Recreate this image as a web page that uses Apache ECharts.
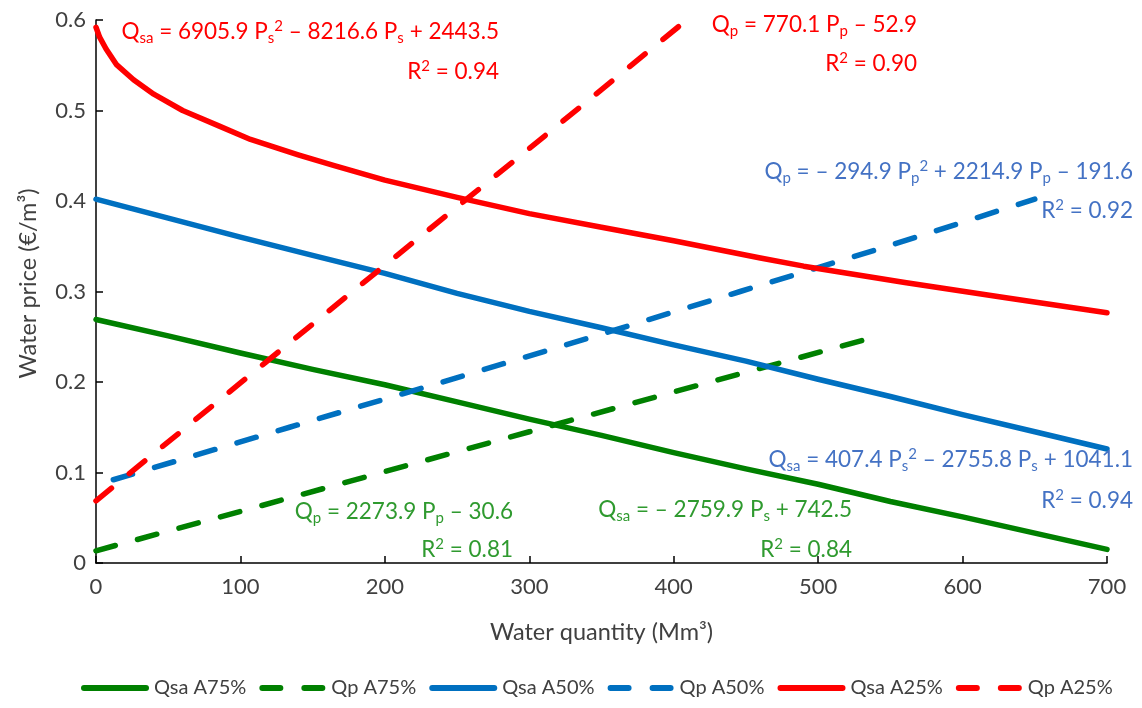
<!DOCTYPE html>
<html>
<head>
<meta charset="utf-8">
<script src="https://cdn.jsdelivr.net/npm/echarts@6/dist/echarts.min.js"></script>
<style>
html,body{margin:0;padding:0;background:#fff;}
#c{width:1142px;height:708px;}
</style>
</head>
<body>
<div id="c"></div>
<script>
// ---- data ----
const seriesNames = ['Qsa A75%', 'Qp A75%', 'Qsa A50%', 'Qp A50%', 'Qsa A25%', 'Qp A25%'];

const qsaA75_Q = [0, 50, 100, 150, 200, 250, 300, 350, 400, 450, 500, 550, 600, 650, 700];
const qsaA75_P = [0.269, 0.251, 0.232, 0.214, 0.197, 0.178, 0.159, 0.141, 0.122, 0.104, 0.087, 0.068, 0.051, 0.033, 0.015];

const qpA75_Q = [0, 100, 200, 300, 400, 540];
const qpA75_P = [0.0135, 0.057, 0.101, 0.145, 0.189, 0.250];

const qsaA50_Q = [0, 50, 100, 150, 200, 250, 300, 350, 400, 450, 500, 550, 600, 650, 700];
const qsaA50_P = [0.402, 0.381, 0.360, 0.340, 0.320, 0.298, 0.278, 0.260, 0.241, 0.223, 0.203, 0.184, 0.164, 0.145, 0.126];

const qpA50_Q = [12, 134, 240, 344, 446, 548, 650];
const qpA50_P = [0.092, 0.150, 0.200, 0.250, 0.300, 0.350, 0.402];

const qsaA25_Q = [0, 2.5, 7, 14, 26, 40, 60, 85, 107, 140, 165, 200, 250, 300, 350, 400, 460, 490, 560, 630, 700];
const qsaA25_P = [0.592, 0.581, 0.568, 0.551, 0.534, 0.518, 0.500, 0.483, 0.468, 0.451, 0.439, 0.423, 0.404, 0.386, 0.371, 0.356, 0.337, 0.328, 0.310, 0.293, 0.2765];

const qpA25_Q = [0, 100, 200, 300, 409];
const qpA25_P = [0.0687, 0.199, 0.329, 0.458, 0.600];

const xTicks = {min: 0, max: 700, interval: 100};
const yTicks = {min: 0, max: 0.6, interval: 0.1};

const eqTexts = [
  'Q{sub|sa} = 6905.9 P{sub|s}{sup|2} – 8216.6 P{sub|s} + 2443.5', 'R{sup|2} = 0.94',
  'Q{sub|p} = 770.1 P{sub|p} – 52.9', 'R{sup|2} = 0.90',
  'Q{sub|p} = – 294.9 P{sub|p}{sup|2} + 2214.9 P{sub|p} – 191.6', 'R{sup|2} = 0.92',
  'Q{sub|sa} = 407.4 P{sub|s}{sup|2} – 2755.8 P{sub|s} + 1041.1', 'R{sup|2} = 0.94',
  'Q{sub|p} = 2273.9 P{sub|p} – 30.6', 'R{sup|2} = 0.81',
  'Q{sub|sa} = – 2759.9 P{sub|s} + 742.5', 'R{sup|2} = 0.84'
];

// ---- chart ----
const FONT = 'Lato, "Open Sans", sans-serif';
const GREEN = '#008000', BLUE = '#0070C0', RED = '#FF0000';
const GREEN_T = '#2F9A2F', BLUE_T = '#4472C4', RED_T = '#FF0000';

const ICON_SOLID = 'path://M3,0 H65 A3,3 0 0 1 65,6 H3 A3,3 0 0 1 3,0 Z';
const ICON_DASH = 'path://M3,0 H21 A3,3 0 0 1 21,6 H3 A3,3 0 0 1 3,0 Z M45,0 H63 A3,3 0 0 1 63,6 H45 A3,3 0 0 1 45,0 Z';

function zip(a, b) { return a.map((v, i) => [v, b[i]]); }

function lineSeries(name, q, p, color, dashed) {
  return {
    name: name,
    type: 'line',
    data: zip(q, p),
    showSymbol: false,
    symbol: 'none',
    smooth: false,
    lineStyle: {
      color: color, width: 5.5, cap: 'round', join: 'round',
      type: dashed ? [20, 23] : 'solid'
    },
    itemStyle: {color: color, borderWidth: 0},
    emphasis: {disabled: true},
    animation: false
  };
}

const rich = {
  sub: {fontSize: 15, fontFamily: FONT, verticalAlign: 'bottom', lineHeight: 15},
  sup: {fontSize: 15, fontFamily: FONT, verticalAlign: 'top', lineHeight: 15}
};

const eqPlacement = [
  [499, 32, RED_T], [499, 72, RED_T],
  [917, 25, RED_T], [917, 64, RED_T],
  [1133, 172, BLUE_T], [1133, 211, BLUE_T],
  [1133, 460, BLUE_T], [1133, 501, BLUE_T],
  [513, 512, GREEN_T], [513, 550, GREEN_T],
  [852, 510, GREEN_T], [852, 550, GREEN_T]
];

const graphics = eqTexts.map((t, i) => ({
  type: 'text',
  x: eqPlacement[i][0],
  y: eqPlacement[i][1],
  z: 100,
  style: {
    text: t,
    fill: eqPlacement[i][2],
    font: '22.5px ' + FONT,
    lineHeight: 27,
    align: 'right',
    verticalAlign: 'middle',
    rich: rich
  }
}));

const chart = echarts.init(document.getElementById('c'), null, {renderer: 'canvas'});
chart.setOption({
  animation: false,
  backgroundColor: '#ffffff',
  grid: {left: 96, right: 35, top: 20, bottom: 145, containLabel: false, outerBoundsMode: 'none'},
  xAxis: {
    type: 'value',
    min: xTicks.min, max: xTicks.max, interval: xTicks.interval,
    name: 'Water quantity (Mm³)',
    nameLocation: 'middle',
    nameGap: 57,
    nameTextStyle: {fontSize: 23.5, fontFamily: FONT, color: '#404040'},
    axisLine: {show: true, onZero: false, lineStyle: {color: '#000', width: 1.5}},
    axisTick: {show: true, inside: true, length: 7, lineStyle: {color: '#000', width: 1.5}},
    axisLabel: {fontSize: 22, fontFamily: FONT, color: '#404040', margin: 13},
    splitLine: {show: false}
  },
  yAxis: {
    type: 'value',
    min: yTicks.min, max: yTicks.max, interval: yTicks.interval,
    name: 'Water price (€/m³)',
    nameLocation: 'middle',
    nameGap: 56,
    nameTextStyle: {fontSize: 23.5, fontFamily: FONT, color: '#404040', padding: [0, 0, 0, 16]},
    axisLine: {show: true, onZero: false, lineStyle: {color: '#000', width: 1.5}},
    axisTick: {show: true, inside: true, length: 7, lineStyle: {color: '#000', width: 1.5}},
    axisLabel: {fontSize: 22, fontFamily: FONT, color: '#404040', margin: 10},
    splitLine: {show: false}
  },
  legend: {
    type: 'plain',
    data: seriesNames.map((n, i) => ({name: n, icon: i % 2 === 0 ? ICON_SOLID : ICON_DASH})),
    left: 76,
    top: 673,
    width: 1064,
    itemWidth: 68,
    itemHeight: 6,
    itemGap: 13,
    symbolKeepAspect: true,
    itemStyle: {borderWidth: 0},
    textStyle: {fontSize: 20, fontFamily: FONT, color: '#404040'}
  },
  series: [
    lineSeries(seriesNames[0], qsaA75_Q, qsaA75_P, GREEN, false),
    lineSeries(seriesNames[1], qpA75_Q, qpA75_P, GREEN, true),
    lineSeries(seriesNames[2], qsaA50_Q, qsaA50_P, BLUE, false),
    lineSeries(seriesNames[3], qpA50_Q, qpA50_P, BLUE, true),
    lineSeries(seriesNames[4], qsaA25_Q, qsaA25_P, RED, false),
    lineSeries(seriesNames[5], qpA25_Q, qpA25_P, RED, true)
  ],
  graphic: graphics
});
</script>
</body>
</html>
